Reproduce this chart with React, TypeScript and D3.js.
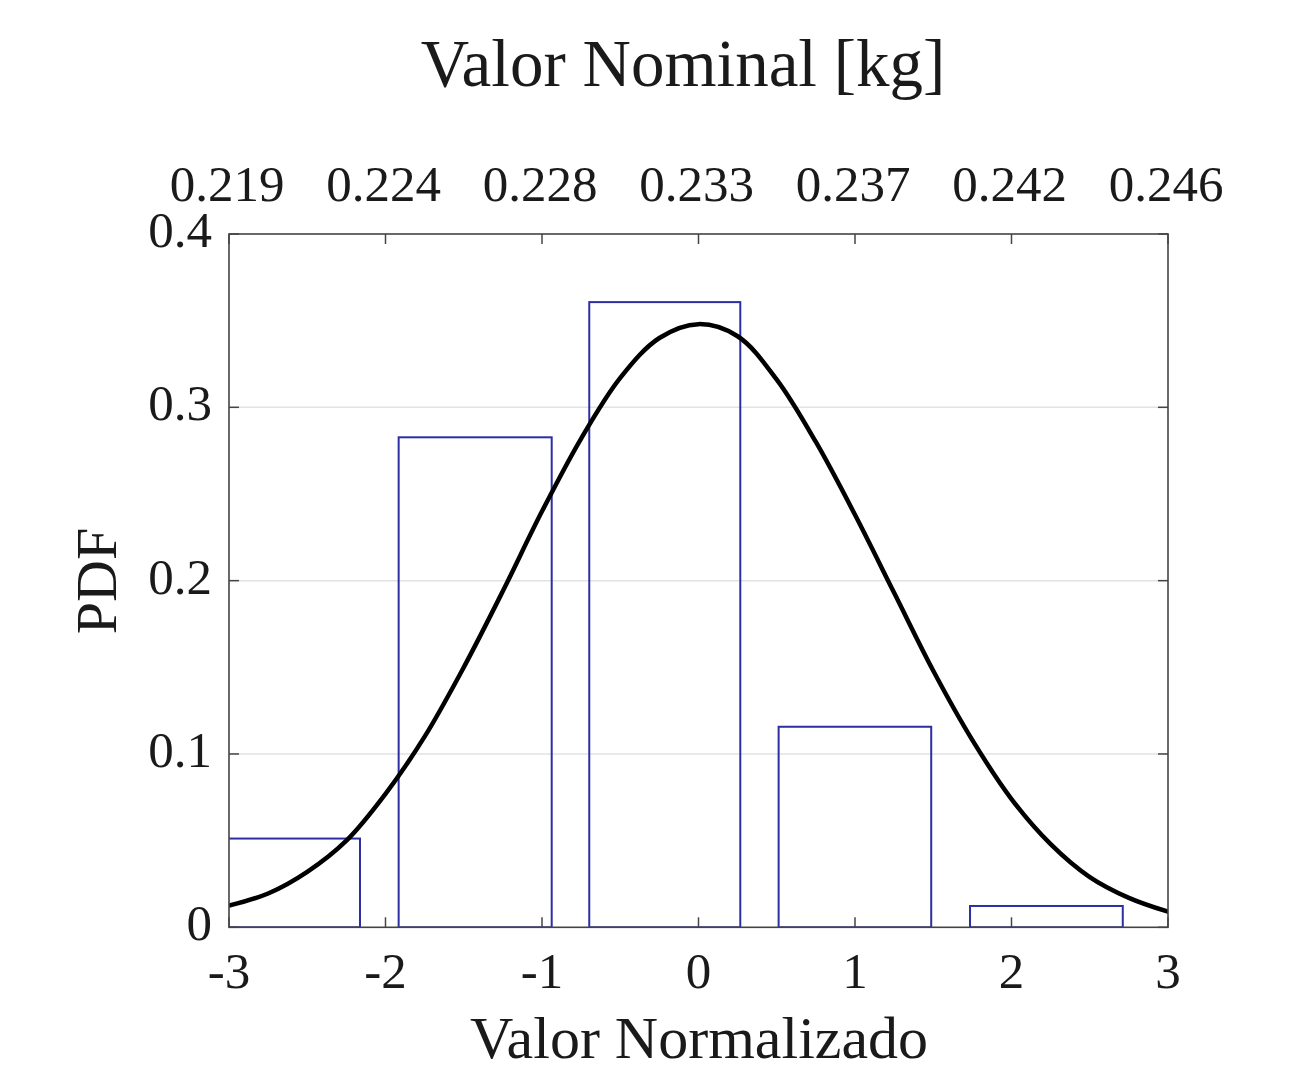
import * as d3 from 'd3';

// histogram bins (normalised value)
const binLeft = [-3.14, -1.916, -0.698, 0.512, 1.735];
const binRight = [-2.163, -0.938, 0.267, 1.487, 2.711];
const binPdf = [0.0512, 0.2827, 0.3607, 0.1157, 0.0123];

// fitted PDF curve
const curveX = [-3, -2.75, -2.5, -2.25, -2, -1.75, -1.5, -1.25, -1, -0.75, -0.5, -0.25, 0,
  0.25, 0.5, 0.75, 1, 1.25, 1.5, 1.75, 2, 2.25, 2.5, 2.75, 3];
const curveY = [0.0125, 0.0195, 0.032, 0.05, 0.077, 0.11, 0.15, 0.194, 0.24, 0.282, 0.317, 0.34, 0.348,
  0.341, 0.316, 0.28, 0.238, 0.193, 0.148, 0.108, 0.074, 0.048, 0.029, 0.017, 0.009];

const xTicks = [-3, -2, -1, 0, 1, 2, 3];
const topTickLabels = ['0.219', '0.224', '0.228', '0.233', '0.237', '0.242', '0.246'];
const yTicks = [0, 0.1, 0.2, 0.3, 0.4];

const W = 1302;
const H = 1075;
const FONT = '"Liberation Serif", "Times New Roman", serif';

export default function App() {
    const left = 229, right = 1168, top = 234, bottom = 927.3;

    const x = d3.scaleLinear().domain([-3, 3]).range([left, right]);
    const y = d3.scaleLinear().domain([0, 0.4]).range([bottom, top]);

    const pts: [number, number][] = curveX.map((v, i) => [v, curveY[i]]);
    const line = d3.line<[number, number]>()
        .x(d => x(d[0]))
        .y(d => y(d[1]))
        .curve(d3.curveCatmullRom.alpha(0.5));

    const tickLen = 10;
    const axisColor = '#444';

    return (
        <svg width={W} height={H} viewBox={`0 0 ${W} ${H}`}
            style={{ position: 'absolute', left: 0, top: 0, background: '#fff' }}
            fontFamily={FONT}>
            <defs>
                <clipPath id="plot-clip">
                    <rect x={left} y={top} width={right - left} height={bottom - top} />
                </clipPath>
            </defs>

            {/* grid */}
            {yTicks.filter(t => t > 0 && t < 0.4).map(t => (
                <line key={'g' + t} x1={left} x2={right} y1={y(t)} y2={y(t)}
                    stroke="#e2e2e2" strokeWidth={1.5} />
            ))}

            {/* histogram + fitted curve */}
            <g clipPath="url(#plot-clip)">
                {binPdf.map((v, i) => (
                    <rect key={'b' + i}
                        x={x(binLeft[i])} y={y(v)}
                        width={x(binRight[i]) - x(binLeft[i])}
                        height={y(0) - y(v)}
                        fill="none" stroke="#2e2ea3" strokeWidth={2} />
                ))}
                <path d={line(pts) ?? ''} fill="none" stroke="#000" strokeWidth={4.5}
                    strokeLinejoin="round" strokeLinecap="round" />
            </g>

            {/* frame */}
            <rect x={left} y={top} width={right - left} height={bottom - top}
                fill="none" stroke={axisColor} strokeWidth={1.6} />

            {/* x ticks bottom + top */}
            {xTicks.map((t, i) => (
                <g key={'x' + t}>
                    <line x1={x(t)} x2={x(t)} y1={bottom} y2={bottom - tickLen} stroke={axisColor} strokeWidth={1.5} />
                    <line x1={x(t)} x2={x(t)} y1={top} y2={top + tickLen} stroke={axisColor} strokeWidth={1.5} />
                    <text x={x(t)} y={988} textAnchor="middle" fontSize={51} fill="#1a1a1a">
                        {t < 0 ? '-' + Math.abs(t) : String(t)}
                    </text>
                    <text x={x(t) - 2} y={201} textAnchor="middle" fontSize={51} fill="#1a1a1a">
                        {topTickLabels[i]}
                    </text>
                </g>
            ))}

            {/* y ticks left + right */}
            {yTicks.map(t => (
                <g key={'y' + t}>
                    <line x1={left} x2={left + tickLen} y1={y(t)} y2={y(t)} stroke={axisColor} strokeWidth={1.5} />
                    <line x1={right} x2={right - tickLen} y1={y(t)} y2={y(t)} stroke={axisColor} strokeWidth={1.5} />
                    <text x={212} y={y(t) + 13} textAnchor="end" fontSize={51} fill="#1a1a1a">
                        {t === 0 ? '0' : d3.format('.1f')(t)}
                    </text>
                </g>
            ))}

            {/* labels */}
            <text x={683} y={86} textAnchor="middle" fontSize={67} fill="#1a1a1a">Valor Nominal [kg]</text>
            <text x={699} y={1058} textAnchor="middle" fontSize={60} fill="#1a1a1a">Valor Normalizado</text>
            <text transform="translate(116,581) rotate(-90)" textAnchor="middle" fontSize={58} fill="#1a1a1a">PDF</text>
        </svg>
    );
}
